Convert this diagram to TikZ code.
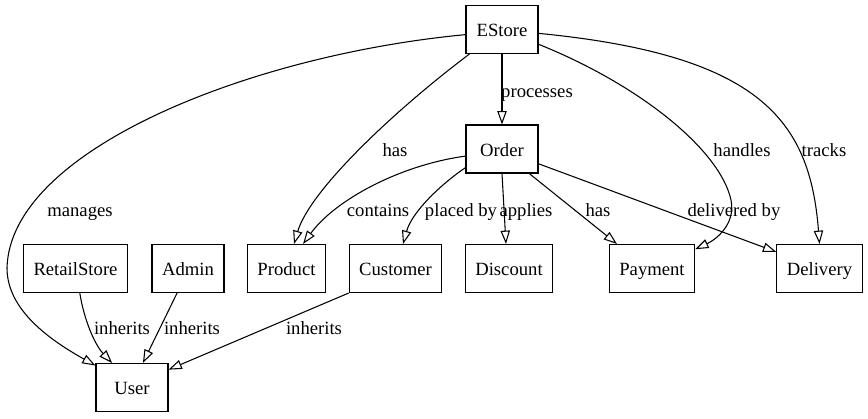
\documentclass[tikz,border=0pt]{standalone}
\usepackage{fontspec}
\setmainfont{Liberation Serif}
\usetikzlibrary{arrows.meta}

\begin{document}
\begin{tikzpicture}[x=0.75pt, y=-0.75pt,
    box/.style={draw, line width=0.8pt, minimum width=54pt, minimum height=36pt,
      inner xsep=7.5pt, inner ysep=0pt, text height=11pt, text depth=0pt,
      font=\fontsize{14pt}{16pt}\selectfont},
    lbl/.style={anchor=base, inner sep=0pt, font=\fontsize{14pt}{16pt}\selectfont},
    edge/.style={line width=0.8pt, -{Triangle[open, length=10pt, width=7pt]}}]
    \useasboundingbox (0,0) rectangle (868,418);

    \node [box] (estore) at (502,29.5) {EStore};
    \node [box] (order) at (502,149) {Order};

    \node [box] (retail) at (75.5,268.5) {RetailStore};
    \node [box] (admin) at (188,268.5) {Admin};
    \node [box] (product) at (286.5,268.5) {Product};
    \node [box] (customer) at (395.5,268.5) {Customer};
    \node [box] (discount) at (509,268.5) {Discount};
    \node [box] (payment) at (652,268.5) {Payment};
    \node [box] (delivery) at (819.5,268.5) {Delivery};

    \node [box] (user) at (132,387.5) {User};

    \draw [edge] (estore.south) -- (order.north);
    \draw [edge] (estore.188) .. controls (250,55) and (10,150) .. (7,268)
      .. controls (7,310) and (50,340) .. (user.149);
    \draw [edge] (estore.217) .. controls (395,110) and (310,190) .. (product.73);
    \draw [edge] (estore.338) .. controls (640,85) and (720,150) .. (731,200)
      .. controls (736,225) and (715,240) .. (payment.24);
    \draw [edge] (estore.354) .. controls (760,55) and (810,120) .. (delivery.north);

    \draw [edge] (order.191) .. controls (400,165) and (335,200) .. (product.56);
    \draw [edge] (order.207) .. controls (440,185) and (412,212) .. (customer.73);
    \draw [edge] (order.south) -- (discount.97);
    \draw [edge] (order.318) -- (payment.145);
    \draw [edge] (order.338) -- (delivery.159);

    \draw [edge] (retail.280) .. controls (84,320) and (95,345) .. (user.129);
    \draw [edge] (admin.246) -- (user.66);
    \draw [edge] (customer.south west) -- (user.26);

    \node [lbl] (lprocesses) at (537,97) {processes};
    \node [lbl] (lmanages) at (80,216) {manages};
    \node [lbl] (lhas) at (395,156) {has};
    \node [lbl] (lhandles) at (742,156) {handles};
    \node [lbl] (ltracks) at (824,156) {tracks};

    \node [lbl] (lcontains) at (378,216) {contains};
    \node [lbl] (lplaced) at (461,216) {placed by};
    \node [lbl] (lapplies) at (526,216) {applies};
    \node [lbl] (lpayhas) at (598,216) {has};
    \node [lbl] (ldelivered) at (734,216) {delivered by};

    \node [lbl] (lretail) at (122,334) {inherits};
    \node [lbl] (ladmin) at (192,334) {inherits};
    \node [lbl] (lcustomer) at (314,334) {inherits};
\end{tikzpicture}
\end{document}
